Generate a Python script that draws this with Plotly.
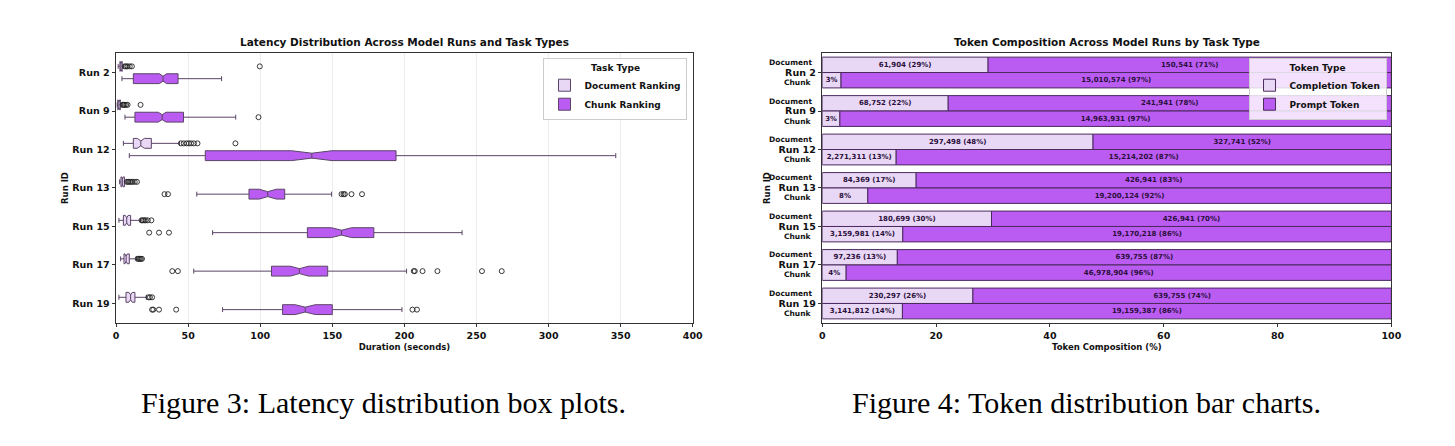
import plotly.graph_objects as go

# ---------------- data ----------------
runs = ["Run 2", "Run 9", "Run 12", "Run 13", "Run 15", "Run 17", "Run 19"]

# Latency (seconds) - Document Ranking box statistics
doc_lower = [1.5, 0.8, 5.1, 2.5, 2.0, 3.2, 2.0]
doc_q1 = [2.7, 1.2, 12.0, 3.4, 5.1, 5.5, 6.9]
doc_median = [3.4, 2.0, 17.2, 4.4, 7.4, 7.0, 10.1]
doc_q3 = [4.3, 3.0, 24.5, 5.8, 10.1, 9.2, 13.1]
doc_upper = [5.2, 4.0, 44.0, 7.0, 17.0, 14.0, 21.0]
doc_notch = [0.5, 0.5, 2.5, 0.5, 1.0, 0.8, 1.2]
doc_outliers = [
    [6.0, 7.0, 8.0, 9.5, 11.0, 99.7],
    [4.5, 5.2, 6.0, 7.0, 8.0, 17.0],
    [45.0, 47.0, 49.0, 50.5, 52.0, 54.0, 56.5, 82.8],
    [7.5, 8.5, 9.5, 10.5, 11.5, 13.0, 14.5],
    [17.7, 18.5, 19.5, 20.5, 22.0, 24.5],
    [15.0, 15.8, 16.5, 17.2, 18.0],
    [22.5, 23.5, 25.0],
]

# Latency (seconds) - Chunk Ranking box statistics
chunk_lower = [4.1, 6.2, 9.2, 56.0, 67.0, 53.9, 73.9]
chunk_q1 = [12.0, 13.1, 61.9, 92.2, 132.7, 107.8, 115.5]
chunk_median = [32.6, 32.0, 135.8, 105.2, 156.4, 127.2, 131.2]
chunk_q3 = [43.0, 46.8, 194.2, 117.0, 178.8, 146.8, 150.0]
chunk_upper = [73.2, 83.0, 346.6, 149.5, 240.0, 201.5, 198.3]
chunk_notch = [2.5, 2.7, 14.0, 6.0, 7.0, 6.3, 7.0]
chunk_outliers = [
    [],
    [98.8],
    [],
    [33.6, 36.0, 156.4, 157.8, 158.7, 163.3, 170.6],
    [23.0, 29.8, 36.7],
    [39.0, 42.9, 206.5, 207.2, 212.6, 222.9, 253.8, 267.5],
    [25.0, 25.8, 29.8, 41.7, 205.6, 208.7],
]

# Token counts
doc_completion = [61904, 68752, 297498, 84369, 180699, 97236, 230297]
doc_prompt = [150541, 241941, 327741, 426941, 426941, 639755, 639755]
chunk_completion = [512000, 479000, 2271311, 1670000, 3159981, 2060000, 3141812]
chunk_prompt = [15010574, 14963931, 15214202, 19200124, 19170218, 46978904, 19159387]

# ---------------- styles ----------------
DOC_COLOR = "#E9D7F6"
CHUNK_COLOR = "#BA5CF2"
EDGE = "#4B2A5E"
FONT = "DejaVu Sans"
TXT = "#111111"


def pct(a, b):
    return [100.0 * x / (x + y) for x, y in zip(a, b)]


def comp_labels(vals, ps):
    return [f"{v:,} ({p:.0f}%)" if p >= 10 else f"{p:.0f}%" for v, p in zip(vals, ps)]


def prompt_labels(vals, ps):
    return [f"{v:,} ({p:.0f}%)" for v, p in zip(vals, ps)]


doc_comp_pct = pct(doc_completion, doc_prompt)
doc_prompt_pct = pct(doc_prompt, doc_completion)
chunk_comp_pct = pct(chunk_completion, chunk_prompt)
chunk_prompt_pct = pct(chunk_prompt, chunk_completion)

fig = go.Figure()

# ---------------- left: box plots ----------------
box_common = dict(
    orientation="h", notched=True, notchwidth=0.25, boxpoints=False,
    whiskerwidth=0.5, xaxis="x", yaxis="y", legend="legend",
    line=dict(color="#5a4466", width=1),
)
fig.add_trace(go.Box(
    name="Document Ranking", y=runs, q1=doc_q1, median=doc_median, q3=doc_q3,
    lowerfence=doc_lower, upperfence=doc_upper, notchspan=doc_notch,
    fillcolor=DOC_COLOR, offsetgroup="doc", **box_common))
fig.add_trace(go.Box(
    name="Chunk Ranking", y=runs, q1=chunk_q1, median=chunk_median, q3=chunk_q3,
    lowerfence=chunk_lower, upperfence=chunk_upper, notchspan=chunk_notch,
    fillcolor=CHUNK_COLOR, offsetgroup="chunk", **box_common))

for grp, outl in (("doc", doc_outliers), ("chunk", chunk_outliers)):
    xs = [v for lst in outl for v in lst]
    ys = [r for r, lst in zip(runs, outl) for _ in lst]
    fig.add_trace(go.Scatter(
        x=xs, y=ys, mode="markers", orientation="h", offsetgroup=grp,
        marker=dict(symbol="circle-open", size=5, color="#222222",
                    line=dict(width=0.9)),
        showlegend=False, xaxis="x", yaxis="y", hoverinfo="skip"))

# ---------------- right: stacked/grouped bars ----------------
bar_common = dict(orientation="h", xaxis="x2", yaxis="y2", legend="legend2",
                  textposition="inside", insidetextanchor="middle", textangle=0,
                  textfont=dict(family=FONT, size=7, color="#2a0f3a", weight="bold"),
                  marker_line=dict(color=EDGE, width=1))
fig.add_trace(go.Bar(
    name="Completion Token", y=runs, x=doc_comp_pct, offsetgroup="doc",
    text=comp_labels(doc_completion, doc_comp_pct), marker_color=DOC_COLOR,
    legendgroup="comp", showlegend=True, **bar_common))
fig.add_trace(go.Bar(
    name="Prompt Token", y=runs, x=doc_prompt_pct, base=doc_comp_pct, offsetgroup="doc",
    text=prompt_labels(doc_prompt, doc_prompt_pct), marker_color=CHUNK_COLOR,
    legendgroup="prompt", showlegend=True, **bar_common))
fig.add_trace(go.Bar(
    name="Completion Token", y=runs, x=chunk_comp_pct, offsetgroup="chunk",
    text=comp_labels(chunk_completion, chunk_comp_pct), marker_color=DOC_COLOR,
    legendgroup="comp", showlegend=False, **bar_common))
fig.add_trace(go.Bar(
    name="Prompt Token", y=runs, x=chunk_prompt_pct, base=chunk_comp_pct, offsetgroup="chunk",
    text=prompt_labels(chunk_prompt, chunk_prompt_pct), marker_color=CHUNK_COLOR,
    legendgroup="prompt", showlegend=False, **bar_common))

# ---------------- layout ----------------
axis_line = dict(showline=True, linecolor="#333333", linewidth=1, mirror=True,
                 ticks="outside", ticklen=3.5, tickcolor="#333333", zeroline=False)
tickfont = dict(family=FONT, size=9.5, color=TXT, weight="bold")
titlefont = dict(family=FONT, size=8.5, color=TXT, weight="bold")

annotations = [
    dict(text="Latency Distribution Across Model Runs and Task Types", x=0.2759, y=0.9209,
         xref="paper", yref="paper", showarrow=False, xanchor="center", yanchor="middle",
         font=dict(family=FONT, size=10.5, color=TXT, weight="bold")),
    dict(text="Token Composition Across Model Runs by Task Type", x=0.7685, y=0.9209,
         xref="paper", yref="paper", showarrow=False, xanchor="center", yanchor="middle",
         font=dict(family=FONT, size=10.5, color=TXT, weight="bold")),
    dict(text="Figure 3: Latency distribution box plots.", x=0.2609, y=0.0814,
         xref="paper", yref="paper", showarrow=False, xanchor="center", yanchor="middle",
         font=dict(family="Liberation Serif", size=30, color="#000000")),
    dict(text="Figure 4: Token distribution bar charts.", x=0.7543, y=0.0814,
         xref="paper", yref="paper", showarrow=False, xanchor="center", yanchor="middle",
         font=dict(family="Liberation Serif", size=30, color="#000000")),
]
for r in runs:
    annotations.append(dict(text="Document", x=0, xref="x2 domain", y=r, yref="y2",
                            xanchor="right", yanchor="middle", xshift=-8, yshift=10,
                            showarrow=False,
                            font=dict(family=FONT, size=7.5, color=TXT, weight="bold")))
    annotations.append(dict(text="Chunk", x=0, xref="x2 domain", y=r, yref="y2",
                            xanchor="right", yanchor="middle", xshift=-8, yshift=-10,
                            showarrow=False,
                            font=dict(family=FONT, size=7.5, color=TXT, weight="bold")))

legend_common = dict(
    bgcolor="rgba(255,255,255,0.82)", bordercolor="#cccccc", borderwidth=1,
    font=dict(family=FONT, size=9, color=TXT, weight="bold"),
    xanchor="right", yanchor="top", tracegroupgap=0, itemwidth=30,
)

fig.update_layout(
    width=1439, height=430,
    margin=dict(l=0, r=0, t=0, b=0),
    paper_bgcolor="white", plot_bgcolor="white",
    font=dict(family=FONT, color=TXT),
    boxmode="group", boxgap=0.36, boxgroupgap=0.2,
    scattermode="group", scattergap=0.36,
    barmode="group", bargap=0.2, bargroupgap=0.0,
    xaxis=dict(domain=[0.07366, 0.4781], range=[0, 400], tickvals=[0, 50, 100, 150, 200, 250, 300, 350, 400],
               showgrid=True, gridcolor="#ececec", gridwidth=0.8, tickfont=tickfont,
               title=dict(text="Duration (seconds)", font=titlefont, standoff=4), **axis_line),
    yaxis=dict(domain=[0.2681, 0.8947], type="category", categoryorder="array", categoryarray=runs,
               autorange="reversed", showgrid=False, tickfont=tickfont,
               title=dict(text="Run ID", font=titlefont, standoff=2), **axis_line),
    xaxis2=dict(domain=[0.5689, 0.9680], range=[0, 100], tickvals=[0, 20, 40, 60, 80, 100],
                showgrid=False, tickfont=tickfont,
                title=dict(text="Token Composition (%)", font=titlefont, standoff=4), **axis_line),
    yaxis2=dict(domain=[0.2681, 0.8947], anchor="x2", type="category", categoryorder="array",
                categoryarray=runs, autorange="reversed", showgrid=False, tickfont=tickfont,
                title=dict(text="Run ID", font=titlefont, standoff=6), **axis_line),
    legend=dict(x=0.4744, y=0.8837,
                title=dict(text="Task Type", side="top center",
                           font=dict(family=FONT, size=9, color=TXT, weight="bold")),
                **legend_common),
    legend2=dict(x=0.9646, y=0.8837,
                 title=dict(text="Token Type", side="top center",
                            font=dict(family=FONT, size=9, color=TXT, weight="bold")),
                 **legend_common),
    annotations=annotations,
    showlegend=True,
)

fig.write_html("out.html")
